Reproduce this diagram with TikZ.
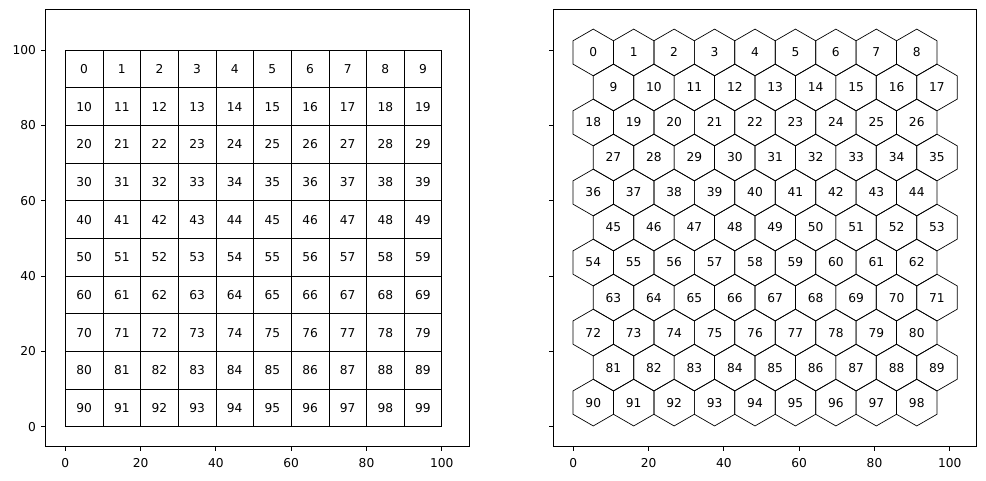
\documentclass[tikz,border=0pt]{standalone}
\usepackage{fontspec}
\setmainfont{DejaVu Sans}
\usetikzlibrary{positioning}

\begin{document}
\begin{tikzpicture}[x=0.72pt, y=0.72pt,
  every node/.style={font=\fontsize{8.8}{10}\selectfont, text height=6.4pt, text depth=0pt},
  spine/.style={line width=0.7pt},
  tickmark/.style={line width=0.7pt},
  ticklabel/.style={inner sep=0pt},
  cellbox/.style={draw, line width=0.5pt, minimum size=27.108pt, inner sep=0pt},
  hexedge/.style={line width=0.5pt, line join=miter}]
  \useasboundingbox (0,0) rectangle (986,480);

  % left panel: square grid
  \begin{scope}[shift={(65.3,53.3)}, x=2.7108pt, y=2.7108pt]
    \draw[spine] (-5.13,-5.13) rectangle (107.3,110.68);
    \foreach \t in {0,20,...,100} {
      \draw[tickmark] (\t,-5.13) -- ++(0pt,-3.3pt) coordinate (xta\t);
      \node[ticklabel, below=5.3pt of xta\t] (xla\t) {\t};
      \draw[tickmark] (-5.13,\t) -- ++(-3.3pt,0pt) coordinate (yta\t);
      \node[ticklabel, left=3.8pt of yta\t] (yla\t) {\t};
    }
    \foreach \n in {0,...,99} {
      \pgfmathtruncatemacro{\col}{mod(\n,10)}
      \pgfmathtruncatemacro{\row}{int(\n/10)}
      \node[cellbox] (sq\n) at ({10*\col+5},{95-10*\row}) {\n};
    }
  \end{scope}

  % right panel: hexagonal grid
  \begin{scope}[shift={(573.3,53.3)}, x=2.7108pt, y=2.7108pt]
    \draw[spine] (-5.31,-5.13) rectangle (107.14,110.68);
    \foreach \t in {0,20,...,100} {
      \draw[tickmark] (\t,-5.13) -- ++(0pt,-3.3pt) coordinate (xtb\t);
      \node[ticklabel, below=5.3pt of xtb\t] (xlb\t) {\t};
      \draw[tickmark] (-5.31,\t) -- ++(-3.3pt,0pt);
    }
    \foreach \row in {0,...,10} {
      \foreach \col in {0,...,8} {
        \pgfmathtruncatemacro{\n}{9*\row+\col}
        \pgfmathsetmacro{\hx}{5.3+10.74*\col+5.37*mod(\row,2)}
        \pgfmathsetmacro{\hy}{99.4-9.3*\row}
        \draw[hexedge] (\hx,\hy) +(90:6.2) -- +(150:6.2) -- +(210:6.2) -- +(270:6.2)
          -- +(330:6.2) -- +(30:6.2) -- cycle;
        \node (hx\n) at (\hx,\hy) {\n};
      }
    }
  \end{scope}
\end{tikzpicture}
\end{document}
